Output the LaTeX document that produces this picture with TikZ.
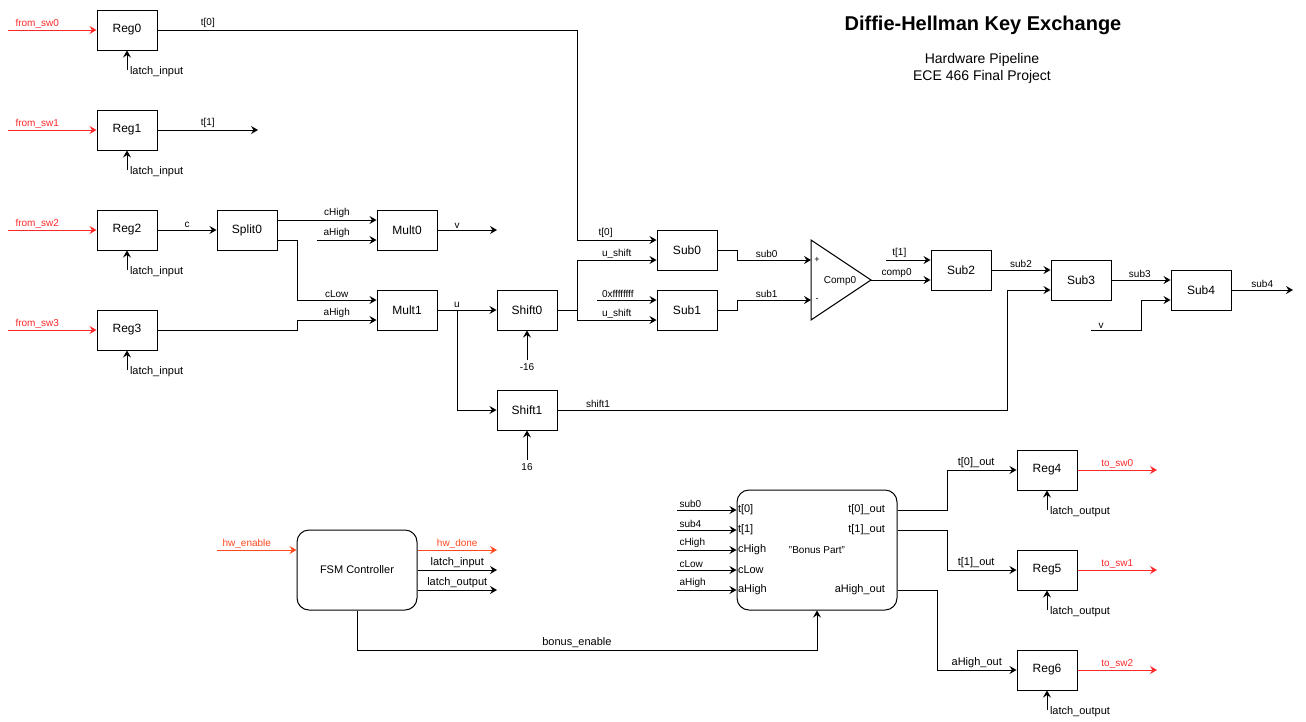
\documentclass[tikz,border=0pt]{standalone}
\usepackage{fontspec}
\setmainfont{Liberation Sans}
\usetikzlibrary{arrows.meta}
\definecolor{swred}{RGB}{255,40,40}
\definecolor{hwred}{RGB}{255,72,30}
\begin{document}
\begin{tikzpicture}[x=1pt,y=-1pt,line width=1pt,
  arr/.style={-{Stealth[length=7pt,width=8pt,inset=2.5pt]}},
  blk/.style={draw,minimum width=60pt,minimum height=40pt,inner sep=0pt,font=\fontsize{12}{14}\selectfont},
  rblk/.style={draw,rounded corners=12pt,inner sep=0pt},
  lbl/.style={font=\fontsize{10}{12}\selectfont,inner sep=1.5pt},
  lblm/.style={font=\fontsize{11}{13}\selectfont,inner sep=1.5pt},
  redl/.style={arr,draw=swred},
  redt/.style={lbl,text=swred},
  hwl/.style={arr,draw=hwred},
  hwt/.style={lbl,text=hwred}]
\useasboundingbox (0,0) rectangle (1306,721);
% title
\node[font=\bfseries\fontsize{20}{24}\selectfont] (title) at (983,25) {Diffie-Hellman Key Exchange};
\node[font=\fontsize{14}{16}\selectfont] (subt1) at (982,60) {Hardware Pipeline};
\node[font=\fontsize{14}{16}\selectfont] (subt2) at (982,77) {ECE 466 Final Project};
% registers
\node[blk] (reg0) at (127,30) {Reg0};
\node[blk] (reg1) at (127,130) {Reg1};
\node[blk] (reg2) at (127,230) {Reg2};
\node[blk] (reg3) at (127,330) {Reg3};
\node[blk] (split0) at (247,230) {Split0};
\node[blk] (mult0) at (407,230) {Mult0};
\node[blk] (mult1) at (407,310) {Mult1};
\node[blk] (shift0) at (527,310) {Shift0};
\node[blk] (shift1) at (527,410) {Shift1};
\node[blk] (sub0) at (687,250) {Sub0};
\node[blk] (sub1) at (687,310) {Sub1};
\node[blk] (sub2) at (961,270) {Sub2};
\node[blk] (sub3) at (1081,280) {Sub3};
\node[blk] (sub4) at (1201,290) {Sub4};
\node[blk] (reg4) at (1047,470) {Reg4};
\node[blk] (reg5) at (1047,570) {Reg5};
\node[blk] (reg6) at (1047,670) {Reg6};
% comparator
\coordinate (cmpP) at (811,260);
\coordinate (cmpM) at (811,300);
\coordinate (cmpO) at (871,280);
\draw (811,240) -- (871,280) -- (811,320) -- cycle;
\node[lbl] (comp0) at (840,281) {Comp0};
\node[lbl,font=\fontsize{9}{10}\selectfont] (cplus) at (817,260) {+};
\node[lbl,font=\fontsize{9}{10}\selectfont] (cminus) at (817,300) {-};
% inputs from switches
\foreach \i/\y in {0/30,1/130,2/230,3/330}{
  \coordinate (fs\i) at (8,\y);
  \draw[redl] (fs\i) -- node[redt,above,pos=0.33]{from\_sw\i} (reg\i.west);
  \coordinate (li\i) at (127,\y+40);
  \draw[arr] (li\i) node[lblm,anchor=west,xshift=1pt,yshift=-1.5pt]{latch\_input} -- (reg\i.south);
}
% t[0]
\draw[arr] (reg0.east) -- node[lbl,above,pos=0.12]{t[0]} (577,30) |- node[lbl,above,pos=0.68]{t[0]} ([yshift=10pt]sub0.west);
% t[1]
\coordinate (t1end) at (258,130);
\draw[arr] (reg1.east) -- node[lbl,above]{t[1]} (t1end);
% c
\draw[arr] (reg2.east) -- node[lbl,above]{c} (split0.west);
% cHigh
\draw[arr] ([yshift=10pt]split0.east) -- node[lbl,above,pos=0.6]{cHigh} ([yshift=10pt]mult0.west);
\coordinate (ah0) at (317,240);
\draw[arr] (ah0) -- node[lbl,above,pos=0.33]{aHigh} ([yshift=-10pt]mult0.west);
% cLow
\draw[arr] ([yshift=-10pt]split0.east) -- (297,240) |- node[lbl,above,pos=0.75]{cLow} ([yshift=10pt]mult1.west);
% aHigh from Reg3
\draw[arr] (reg3.east) -| (297,320) -- node[lbl,above]{aHigh} ([yshift=-10pt]mult1.west);
% v
\coordinate (vend) at (497,230);
\draw[arr] (mult0.east) -- node[lbl,above,pos=0.33]{v} (vend);
% u
\draw[arr] (mult1.east) -- node[lbl,above,pos=0.33]{u} (shift0.west);
\coordinate (ubr) at (457,310);
\draw[arr] (ubr) |- (shift1.west);
% constants
\coordinate (m16) at (527,360);
\draw[arr] (m16) node[lbl,below,inner sep=3pt]{-16} -- (shift0.south);
\coordinate (p16) at (527,460);
\draw[arr] (p16) node[lbl,below,inner sep=3pt]{16} -- (shift1.south);
% shift0 out
\coordinate (sbr) at (577,310);
\draw (shift0.east) -- (sbr);
\draw[arr] (sbr) |- node[lbl,above,pos=0.75]{u\_shift} ([yshift=-10pt]sub0.west);
\draw[arr] (sbr) |- node[lbl,above,pos=0.75]{u\_shift} ([yshift=-10pt]sub1.west);
\coordinate (hexs) at (597,300);
\draw[arr] (hexs) -- node[lbl,above,pos=0.35]{0xffffffff} ([yshift=10pt]sub1.west);
% sub0, sub1
\draw[arr] (sub0.east) -| (737,260) -- node[lbl,above,pos=0.4]{sub0} (cmpP);
\draw[arr] (sub1.east) -| (737,300) -- node[lbl,above,pos=0.4]{sub1} (cmpM);
% comp0
\draw[arr] (cmpO) -- node[lbl,above,pos=0.43]{comp0} ([yshift=-10pt]sub2.west);
\coordinate (t1s) at (886,260);
\draw[arr] (t1s) -- node[lbl,above,pos=0.3]{t[1]} ([yshift=10pt]sub2.west);
% sub2 -> sub3
\draw[arr] (sub2.east) -- node[lbl,above]{sub2} ([yshift=10pt]sub3.west);
% shift1 -> sub3
\draw[arr] (shift1.east) -- node[lbl,above,pos=0.09]{shift1} (1007,410) |- ([yshift=-10pt]sub3.west);
% sub3 -> sub4
\draw[arr] (sub3.east) -- node[lbl,above,pos=0.48]{sub3} ([yshift=10pt]sub4.west);
\coordinate (vs) at (1091,330);
\draw[arr] (vs) -- node[lbl,above,pos=0.2]{v} (1141,330) -- (1141,300) -- ([yshift=-10pt]sub4.west);
\coordinate (s4end) at (1293,290);
\draw[arr] (sub4.east) -- node[lbl,above]{sub4} (s4end);
% FSM
\node[rblk,minimum width=120pt,minimum height=80pt,font=\fontsize{11}{13}\selectfont] (fsm) at (357,570) {FSM Controller};
\coordinate (hwe) at (217,550);
\draw[hwl] (hwe) -- node[hwt,above,pos=0.375]{hw\_enable} ([yshift=20pt]fsm.west);
\coordinate (hwd) at (497,550);
\draw[hwl] ([yshift=20pt]fsm.east) -- node[hwt,above]{hw\_done} (hwd);
\coordinate (fli) at (497,570);
\draw[arr] (fsm.east) -- node[lblm,above]{latch\_input} (fli);
\coordinate (flo) at (497,590);
\draw[arr] ([yshift=-20pt]fsm.east) -- node[lblm,above]{latch\_output} (flo);
% Bonus
\node[rblk,minimum width=160pt,minimum height=120pt,font=\fontsize{10}{12}\selectfont] (bonus) at (817,550) {"Bonus Part"};
\draw[arr] (fsm.south) -- (357,650) -| node[lblm,above,pos=0.239]{bonus\_enable} (bonus.south);
\foreach \n/\t/\dy/\ol in {a/t[0]/40/sub0,b/t[1]/20/sub4,c/cHigh/0/cHigh,d/cLow/-20/cLow,e/aHigh/-40/aHigh}{
  \coordinate (bi\n) at (677,550-\dy);
  \draw[arr] (bi\n) node[lbl,anchor=south west,inner sep=2pt]{\ol} -- ([yshift=\dy pt]bonus.west);
  \node[lblm,anchor=west,inner sep=1pt] (bl\n) at ([yshift=\dy pt]bonus.west) {\t};
}
\node[lblm,anchor=east,inner sep=0pt] (bo1) at ([xshift=-12pt,yshift=40pt]bonus.east) {t[0]\_out};
\node[lblm,anchor=east,inner sep=0pt] (bo2) at ([xshift=-12pt,yshift=20pt]bonus.east) {t[1]\_out};
\node[lblm,anchor=east,inner sep=0pt] (bo3) at ([xshift=-12pt,yshift=-40pt]bonus.east) {aHigh\_out};
\draw[arr] ([yshift=40pt]bonus.east) -- (947,510) |- node[lblm,above,pos=0.71]{t[0]\_out} (reg4.west);
\draw[arr] ([yshift=20pt]bonus.east) -- (947,530) |- node[lblm,above,pos=0.71]{t[1]\_out} (reg5.west);
\draw[arr] ([yshift=-40pt]bonus.east) -- (937,590) |- node[lblm,above,pos=0.75]{aHigh\_out} (reg6.west);
% outputs
\foreach \i/\r/\y in {0/4/470,1/5/570,2/6/670}{
  \coordinate (ts\i) at (1157,\y);
  \draw[redl] (reg\r.east) -- node[redt,above]{to\_sw\i} (ts\i);
  \coordinate (lo\i) at (1047,\y+40);
  \draw[arr] (lo\i) node[lblm,anchor=west,xshift=1pt,yshift=-1.5pt]{latch\_output} -- (reg\r.south);
}
\end{tikzpicture}
\end{document}
